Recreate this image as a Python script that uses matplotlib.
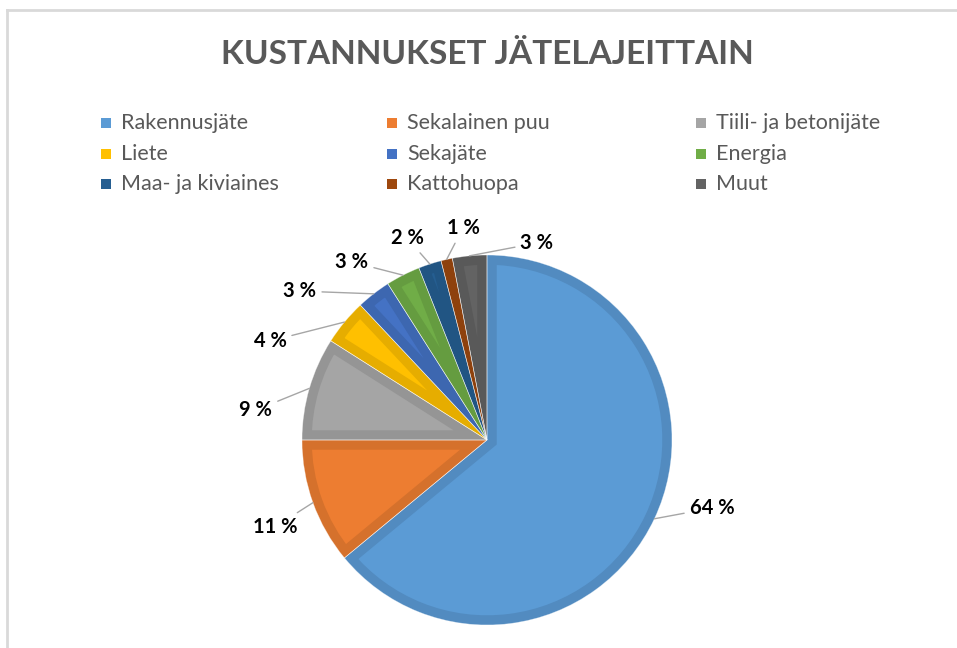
import numpy as np
import matplotlib
matplotlib.use("Agg")
import matplotlib.pyplot as plt
from matplotlib.patches import Rectangle, Wedge
from matplotlib.lines import Line2D
import matplotlib.colors as mcolors

title = "KUSTANNUKSET JÄTELAJEITTAIN"
categories = ["Rakennusjäte", "Sekalainen puu", "Tiili- ja betonijäte",
              "Liete", "Sekajäte", "Energia",
              "Maa- ja kiviaines", "Kattohuopa", "Muut"]
shares = [64, 11, 9, 4, 3, 3, 2, 1, 3]
labels = ["64 %", "11 %", "9 %", "4 %", "3 %", "3 %", "2 %", "1 %", "3 %"]
colors = ["#5B9BD5", "#ED7D31", "#A5A5A5", "#FFC000", "#4472C4",
          "#70AD47", "#255E91", "#9E480E", "#636363"]

# label text positions (in pie-radius units), Excel "best fit" placement
label_pos = [(1.216, -0.368), (-1.146, -0.470), (-1.249, 0.162),
             (-1.173, 0.535), (-1.011, 0.805), (-0.730, 0.962),
             (-0.432, 1.092), (-0.130, 1.146), (0.270, 1.065)]

W, H = 957, 648
fig = plt.figure(figsize=(W / 100, H / 100), dpi=100)
fig.patch.set_facecolor("white")

FONT = ["Lato", "DejaVu Sans"]
TXT = "#595959"

# pie axes: center (487,440) radius 185 px
R = 185
cx, cy = 487, 440
ax = fig.add_axes([(cx - 1.6 * R) / W, 1 - (cy + 1.6 * R) / H, 3.2 * R / W, 3.2 * R / H])


def darker(c, f=0.9):
    r, g, b = mcolors.to_rgb(c)
    return (r * f, g * f, b * f)


wedges, _ = ax.pie(shares, colors=colors, startangle=90, counterclock=False,
                   radius=1.0, center=(0, 0),
                   wedgeprops=dict(linewidth=0))
ax.set_xlim(-1.6, 1.6)
ax.set_ylim(-1.6, 1.6)
ax.set_aspect("equal")
ax.axis("off")

for w, c in zip(wedges, colors):
    w.set_edgecolor(darker(c, 0.9))
    w.set_linewidth(14)
    w.set_joinstyle("miter")
    w.set_clip_on(True)
    w.set_clip_path(w)
for w in wedges:
    sep = Wedge(w.center, w.r, w.theta1, w.theta2, fill=False,
                edgecolor="white", linewidth=0.4, alpha=0.7)
    ax.add_patch(sep)

# labels with leader lines
cum = np.cumsum([0] + shares[:-1])
total = sum(shares)
for i, (lab, (lx, ly)) in enumerate(zip(labels, label_pos)):
    mid = 90 - 360 * (cum[i] + shares[i] / 2) / total
    ex, ey = np.cos(np.radians(mid)), np.sin(np.radians(mid))
    ax.annotate(lab, xy=(ex, ey), xytext=(lx, ly), ha="center", va="center",
                fontsize=14.5, fontweight="bold", color="black", family=FONT,
                arrowprops=dict(arrowstyle="-", color="#A6A6A6", lw=1,
                                shrinkA=2, shrinkB=0))

# title
fig.text(487 / W, 1 - 55 / H, title, ha="center", va="center",
         fontsize=24, fontweight="bold", color=TXT, family=FONT)

# legend (3 x 3 grid, row-major as in reference)
col_x = [101, 387, 696]
row_y = [123, 154, 184]
for i, (cat, c) in enumerate(zip(categories, colors)):
    r, k = divmod(i, 3)
    x, y = col_x[k], row_y[r]
    fig.patches.append(Rectangle((x / W, 1 - (y + 5) / H), 10 / W, 10 / H,
                                 transform=fig.transFigure, facecolor=c,
                                 edgecolor="none"))
    fig.text((x + 20) / W, 1 - y / H, cat, ha="left", va="center",
             fontsize=15.5, color=TXT, family=FONT)

# chart frame (left and top edges visible)
fig.add_artist(Line2D([7 / W, 7 / W], [0, 1 - 10 / H], transform=fig.transFigure,
                      color="#D9D9D9", lw=2))
fig.add_artist(Line2D([7 / W, 1], [1 - 10 / H, 1 - 10 / H], transform=fig.transFigure,
                      color="#D9D9D9", lw=2))

fig.savefig("out.png", dpi=100, facecolor="white")
